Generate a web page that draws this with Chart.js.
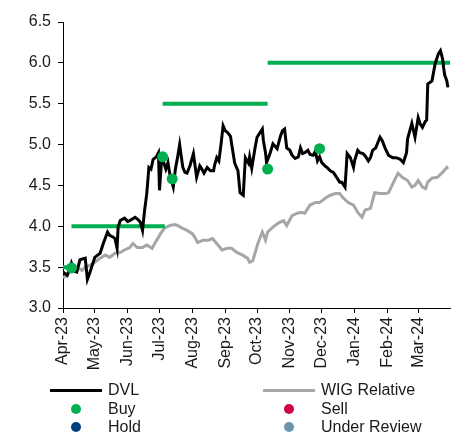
<!DOCTYPE html>
<html>
<head>
<meta charset="utf-8">
<script src="https://cdn.jsdelivr.net/npm/chart.js@4"></script>
<style>
  html, body { margin: 0; padding: 0; background: #fff; overflow: hidden; }
  #wrap { position: relative; width: 457px; height: 432px; }
  #legend { position: absolute; left: 0; top: 0; width: 457px; height: 432px; pointer-events: none;
            font-family: "Liberation Sans", Arial, sans-serif; font-size: 16px; color: #1a1a1a; }
  .lg-text { position: absolute; line-height: 18px; white-space: nowrap; }
  .lg-line { position: absolute; height: 3px; }
  .lg-dot { position: absolute; width: 10px; height: 10px; border-radius: 50%; }
</style>
</head>
<body>
<div id="wrap">
  <canvas id="chart" width="457" height="432"></canvas>
  <div id="legend"></div>
</div>
<script>
// --- data (x = days since 1 Apr 2023) ---
const monthDays = [0, 30, 61, 91, 122, 153, 183, 214, 244, 275, 306, 335];
const monthLabels = ['Apr-23', 'May-23', 'Jun-23', 'Jul-23', 'Aug-23', 'Sep-23', 'Oct-23', 'Nov-23', 'Dec-23', 'Jan-24', 'Feb-24', 'Mar-24'];

const dvlDays = [0, 4, 7, 8, 11, 13, 16, 21, 23, 25, 27, 30, 33, 35, 38, 42, 44, 47, 49, 51, 52, 54, 58, 61, 63, 68, 71, 73, 75,
  77, 79, 81, 83, 85, 88, 90, 91, 93, 95, 97, 99, 101, 104, 106, 108, 110, 113, 115, 117, 120, 123, 125, 126, 129, 131, 133,
  136, 139, 142, 143, 145, 147, 149, 151, 153, 155, 158, 159, 162, 165, 167, 170, 172, 175, 176, 178, 181, 183, 186, 188, 189,
  191, 192, 195, 198, 200, 202, 205, 207, 209, 211, 214, 216, 219, 222, 224, 226, 228, 231, 233, 236, 238, 240, 242, 244, 247,
  249, 252, 255, 257, 258, 261, 263, 266, 268, 271, 274, 275, 278, 280, 283, 285, 288, 290, 292, 295, 299, 301, 304, 307, 308,
  311, 314, 316, 318, 321, 324, 325, 329, 332, 335, 337, 339, 342, 343, 344, 348, 351, 354, 356, 358, 359, 360, 362, 363];
const dvlValues = [3.44, 3.40, 3.50, 3.55, 3.45, 3.44, 3.59, 3.61, 3.35, 3.42, 3.50, 3.62, 3.65, 3.67, 3.79, 3.93, 3.89, 3.87, 3.85, 3.73, 3.99, 4.07, 4.10, 4.06, 4.07, 4.11, 4.08, 4.05, 3.95,
  4.20, 4.40, 4.72, 4.70, 4.82, 4.85, 4.90, 4.44, 4.82, 4.78, 4.70, 4.78, 4.62, 4.48, 4.70, 4.84, 5.00, 4.72, 4.66, 4.65, 4.75, 4.89, 4.70, 4.60, 4.74, 4.70, 4.65,
  4.72, 4.68, 4.68, 4.75, 4.84, 4.80, 5.00, 5.23, 5.17, 5.15, 5.10, 5.01, 4.77, 4.68, 4.41, 4.38, 4.84, 4.77, 4.85, 4.71, 4.95, 5.09, 5.15, 5.19, 5.05,
  4.90, 4.78, 4.88, 5.01, 4.98, 4.95, 5.10, 5.17, 5.19, 4.96, 4.93, 4.87, 4.83, 4.85, 4.96, 4.89, 4.90, 4.93, 4.88, 4.87, 4.92, 4.80, 4.85, 4.78, 4.74,
  4.72, 4.68, 4.66, 4.62, 4.60, 4.54, 4.54, 4.48, 4.89, 4.84, 4.72, 4.80, 4.93, 4.90, 4.89, 4.86, 4.80, 4.84, 4.93, 4.96, 5.09, 5.05, 4.95, 4.87, 4.86,
  4.84, 4.84, 4.83, 4.82, 4.78, 4.90, 5.07, 5.26, 5.09, 5.33, 5.25, 5.21, 5.29, 5.30, 5.74, 5.78, 5.99, 6.11, 6.15, 6.05, 5.94, 5.85, 5.78, 5.70];

const wigDays = [0, 4, 8, 13, 18, 21, 25, 30, 35, 40, 44, 49, 54, 58, 63, 66, 70, 75, 79, 84, 87, 92, 96, 101, 105, 108, 112, 117,
  122, 125, 127, 132, 137, 141, 145, 150, 155, 159, 164, 169, 174, 176, 179, 184, 188, 191, 193, 198, 203, 208, 211, 216, 221,
  225, 228, 233, 238, 242, 247, 252, 257, 261, 264, 269, 274, 278, 282, 285, 290, 294, 299, 304, 307, 311, 316, 320, 325, 329,
  332, 335, 339, 342, 344, 348, 353, 358, 362, 363];
const wigValues = [3.37, 3.40, 3.49, 3.50, 3.46, 3.50, 3.52, 3.56, 3.61, 3.65, 3.62, 3.67, 3.68, 3.71, 3.74, 3.79, 3.74, 3.74, 3.77, 3.73, 3.80, 3.91, 3.98, 4.01, 4.02, 4.01, 3.98, 3.95,
  3.91, 3.85, 3.80, 3.83, 3.83, 3.85, 3.79, 3.71, 3.73, 3.73, 3.68, 3.65, 3.61, 3.56, 3.58, 3.80, 3.93, 3.83, 3.93, 3.99, 4.04, 4.07, 4.01, 4.13, 4.16,
  4.17, 4.16, 4.26, 4.29, 4.29, 4.34, 4.38, 4.40, 4.40, 4.35, 4.29, 4.26, 4.17, 4.11, 4.20, 4.22, 4.41, 4.40, 4.40, 4.41, 4.52, 4.65, 4.60, 4.56, 4.48,
  4.50, 4.56, 4.48, 4.46, 4.54, 4.59, 4.60, 4.66, 4.72, 4.70];

const buyDays = [8, 94, 103, 193, 242];
const buyValues = [3.49, 4.85, 4.58, 4.70, 4.95];

const targetFrom = [0, 8, 94, 193];
const targetTo = [8, 96, 193, 365];
const targetValues = [3.5, 4.0, 5.5, 6.0];

const GREEN = '#00B050';
const FONT = '"Liberation Sans", Arial, sans-serif';

// build point lists
const toPoints = (xs, ys) => xs.map((x, i) => ({ x: x, y: ys[i] }));
const targetPoints = [];
targetValues.forEach((v, i) => {
    if (i > 0) targetPoints.push({ x: targetFrom[i], y: null });
    targetPoints.push({ x: targetFrom[i], y: v }, { x: targetTo[i], y: v });
});

const ctx = document.getElementById('chart').getContext('2d');
const chart = new Chart(ctx, {
    type: 'line',
    data: {
        datasets: [
            { label: 'Buy', data: toPoints(buyDays, buyValues), showLine: false, pointRadius: 5.5, pointBackgroundColor: GREEN, pointBorderWidth: 0, order: 0 },
            { label: 'Sell', data: [], showLine: false, pointBackgroundColor: '#D1004B', order: 0 },
            { label: 'Hold', data: [], showLine: false, pointBackgroundColor: '#00407F', order: 0 },
            { label: 'Under Review', data: [], showLine: false, pointBackgroundColor: '#6B93AD', order: 0 },
            { label: 'DVL', data: toPoints(dvlDays, dvlValues), borderColor: '#000', borderWidth: 3, pointRadius: 0, tension: 0, order: 1 },
            { label: 'Target', data: targetPoints, borderColor: GREEN, borderWidth: 4, pointRadius: 0, spanGaps: false, order: 2 },
            { label: 'WIG Relative', data: toPoints(wigDays, wigValues), borderColor: '#A6A6A6', borderWidth: 3, pointRadius: 0, tension: 0, order: 3 }
        ]
    },
    options: {
        responsive: false,
        animation: false,
        events: [],
        layout: { padding: { top: 22, right: 7, left: 0, bottom: 0 } },
        plugins: { legend: { display: false }, tooltip: { enabled: false } },
        scales: {
            x: {
                type: 'linear', min: 0, max: 365,
                afterBuildTicks: s => { s.ticks = monthDays.map(v => ({ value: v })); },
                afterFit: s => { s.height = 124; },
                grid: { drawOnChartArea: false, drawTicks: true, tickLength: 5, color: '#000' },
                border: { color: '#000', width: 1 },
                ticks: {
                    minRotation: 90, maxRotation: 90, padding: 4, autoSkip: false,
                    color: '#1a1a1a', font: { family: FONT, size: 16 },
                    callback: (v, i) => monthLabels[i]
                }
            },
            y: {
                min: 3, max: 6.5,
                afterFit: s => { s.width = 63; },
                grid: { drawOnChartArea: false, drawTicks: true, tickLength: 5, color: '#000' },
                border: { color: '#000', width: 1 },
                ticks: { stepSize: 0.5, padding: 7, color: '#1a1a1a', font: { family: FONT, size: 16 }, callback: v => v.toFixed(1) }
            }
        }
    }
});

// legend, two columns under the axis
const legendItems = [
    { label: 'DVL', kind: 'line', color: '#000', col: 0, row: 0 },
    { label: 'WIG Relative', kind: 'line', color: '#A6A6A6', col: 1, row: 0 },
    { label: 'Buy', kind: 'dot', color: GREEN, col: 0, row: 1 },
    { label: 'Sell', kind: 'dot', color: '#D1004B', col: 1, row: 1 },
    { label: 'Hold', kind: 'dot', color: '#00407F', col: 0, row: 2 },
    { label: 'Under Review', kind: 'dot', color: '#6B93AD', col: 1, row: 2 }
];
const legend = document.getElementById('legend');
legendItems.forEach(it => {
    const x0 = it.col === 0 ? 50 : 263;
    const cy = 390 + it.row * 18.5;
    const mark = document.createElement('div');
    if (it.kind === 'line') {
        mark.className = 'lg-line';
        mark.style.left = x0 + 'px'; mark.style.width = '52px';
        mark.style.top = (cy - 1.5) + 'px'; mark.style.background = it.color;
    } else {
        mark.className = 'lg-dot';
        mark.style.left = (x0 + 21) + 'px'; mark.style.top = (cy - 5) + 'px';
        mark.style.background = it.color;
    }
    legend.appendChild(mark);
    const t = document.createElement('div');
    t.className = 'lg-text';
    t.textContent = it.label;
    t.style.left = (x0 + 58) + 'px';
    t.style.top = (cy - 9) + 'px';
    legend.appendChild(t);
});
</script>
</body>
</html>
